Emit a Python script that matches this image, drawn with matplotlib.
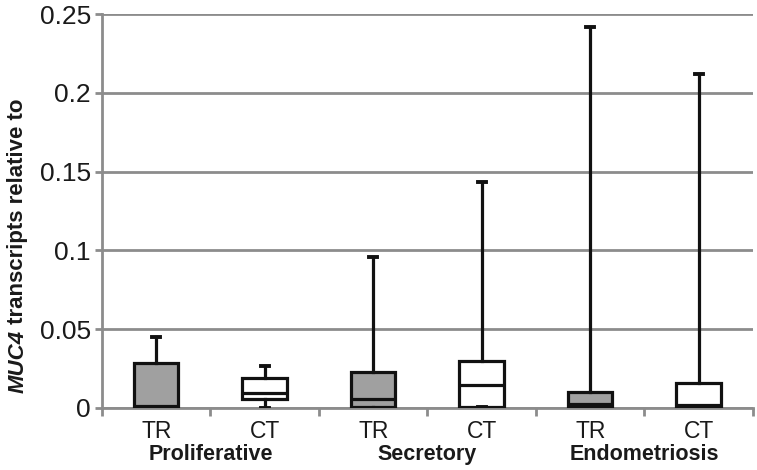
import matplotlib.pyplot as plt

plt.rcParams["font.family"] = ["Liberation Sans", "DejaVu Sans"]

# box statistics
labels = ["TR", "CT", "TR", "CT", "TR", "CT"]
groups = ["Proliferative", "Secretory", "Endometriosis"]
whis_lo = [0.0, 0.0, 0.0, 0.0008, 0.0, 0.0]
q1 = [0.0005, 0.0057, 0.0006, 0.0008, 0.0006, 0.0008]
med = [0.0015, 0.0095, 0.0057, 0.0145, 0.0025, 0.0018]
q3 = [0.0286, 0.019, 0.023, 0.0298, 0.010, 0.0159]
whis_hi = [0.045, 0.0267, 0.096, 0.1437, 0.242, 0.212]
fills = ["#a0a0a0", "white", "#a0a0a0", "white", "#a0a0a0", "white"]

grid_col = "#8c8c8c"
text_col = "#1a1a1a"

fig = plt.figure(figsize=(7.57, 4.70), dpi=100)
ax = fig.add_axes([0.1347, 0.132, 0.860, 0.838])

stats = []
for i in range(len(labels)):
    stats.append({
        "label": labels[i],
        "whislo": whis_lo[i],
        "q1": q1[i],
        "med": med[i],
        "q3": q3[i],
        "whishi": whis_hi[i],
    })

pos = list(range(1, len(labels) + 1))
bp = ax.bxp(
    stats,
    positions=pos,
    widths=0.41,
    capwidths=0.07,
    showfliers=False,
    patch_artist=True,
    boxprops=dict(edgecolor="#111111", linewidth=2.3),
    medianprops=dict(color="#111111", linewidth=2.3),
    whiskerprops=dict(color="#111111", linewidth=2.3),
    capprops=dict(color="#111111", linewidth=2.8),
    zorder=3,
)
for patch, c in zip(bp["boxes"], fills):
    patch.set_facecolor(c)

ax.set_ylim(0, 0.25)
ax.set_xlim(0.5, len(labels) + 0.5)
ax.set_yticks([0, 0.05, 0.1, 0.15, 0.2, 0.25])
ax.set_yticklabels(["0", "0.05", "0.1", "0.15", "0.2", "0.25"])
ax.yaxis.grid(True, color=grid_col, linewidth=2.0, zorder=0)
ax.set_axisbelow(True)

# category boundary ticks, labels as minor ticks
ax.set_xticks([p + 0.5 for p in range(0, len(labels) + 1)])
ax.set_xticklabels([])
ax.set_xticks(pos, minor=True)
ax.set_xticklabels(labels, minor=True)
ax.tick_params(axis="x", which="major", length=6, width=2, color=grid_col)
ax.tick_params(axis="x", which="minor", length=0, pad=9, labelsize=16.5,
               labelcolor=text_col)
ax.tick_params(axis="y", length=5, width=2, color=grid_col, labelsize=19,
               labelcolor=text_col, pad=3)

for side in ["top", "right"]:
    ax.spines[side].set_visible(False)
for side in ["left", "bottom"]:
    ax.spines[side].set_color(grid_col)
    ax.spines[side].set_linewidth(2.0)

for g, name in enumerate(groups):
    ax.text(2 * g + 1.5, -0.119, name, ha="center", va="center",
            fontsize=15.5, fontweight="bold", color=text_col,
            transform=ax.get_xaxis_transform())

t1 = fig.text(18 / 757, 1 - 393 / 470, "MUC4", rotation=90, ha="center",
              va="bottom", fontsize=16, fontweight="bold", style="italic",
              color=text_col)
ax.annotate(" transcripts relative to", xy=(0.5, 1.0), xycoords=t1,
            rotation=90, ha="center", va="bottom", fontsize=16,
            fontweight="bold", color=text_col, annotation_clip=False)

fig.savefig("out.png", dpi=100)
